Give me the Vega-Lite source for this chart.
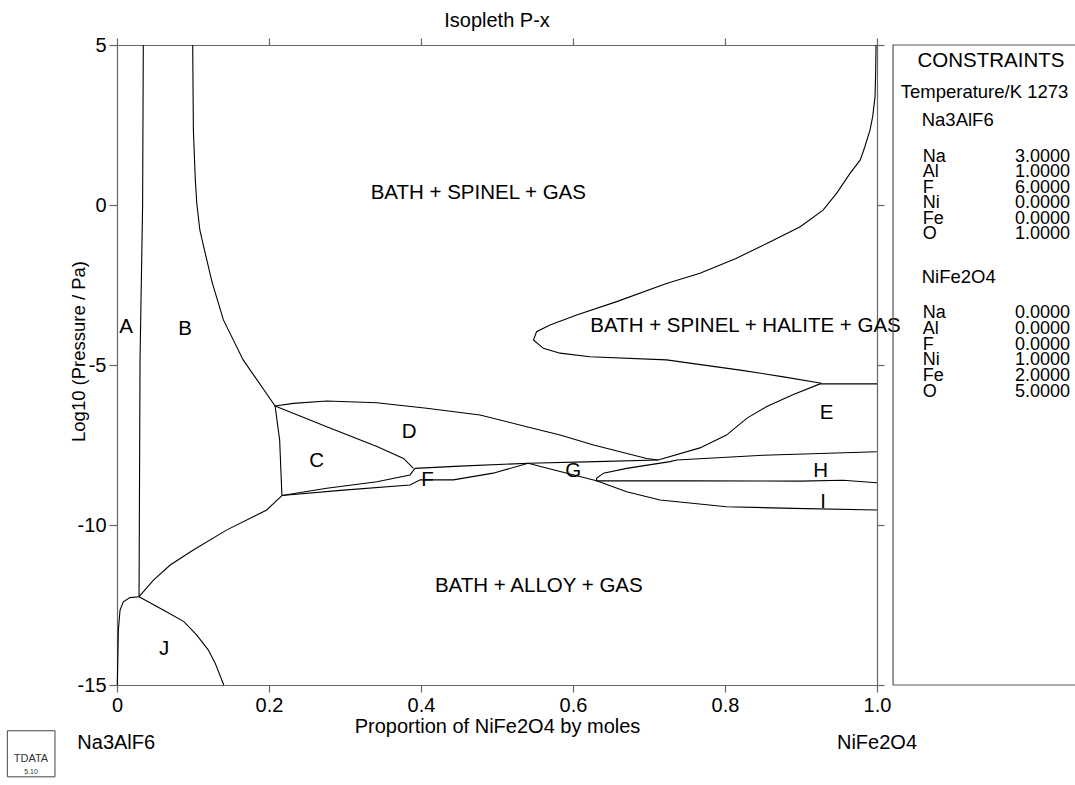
{
  "$schema": "https://vega.github.io/schema/vega-lite/v6.json",
  "width": 760,
  "height": 640,
  "autosize": {"type": "none"},
  "padding": {"left": 117, "top": 45, "right": 198, "bottom": 100},
  "background": "white",
  "title": {"text": "Isopleth P-x", "fontSize": 20, "font": "Liberation Sans", "fontWeight": "normal", "color": "black", "baseline": "bottom", "offset": 7, "dy": 23},
  "config": {
    "view": {"stroke": null},
    "font": "Liberation Sans",
    "axis": {"labelFont": "Liberation Sans", "titleFont": "Liberation Sans", "labelFontSize": 20, "titleFontSize": 20, "titleFontWeight": "normal", "labelColor": "black", "titleColor": "black", "domainColor": "#666", "tickColor": "#666", "tickSize": 7, "grid": false, "domainWidth": 1.2, "tickWidth": 1.2}
  },
  "datasets": {
    "curves": [
      {"c": "c1", "o": 1, "x": 0.0346, "y": 5}, {"c": "c1", "o": 2, "x": 0.0337, "y": 0}, {"c": "c1", "o": 3, "x": 0.0303, "y": -4.84}, {"c": "c1", "o": 4, "x": 0.029, "y": -12.24},
      {"c": "c2", "o": 1, "x": 0.0004, "y": -15}, {"c": "c2", "o": 2, "x": 0.0018, "y": -13.28}, {"c": "c2", "o": 3, "x": 0.004, "y": -12.66}, {"c": "c2", "o": 4, "x": 0.0083, "y": -12.4}, {"c": "c2", "o": 5, "x": 0.017, "y": -12.27}, {"c": "c2", "o": 6, "x": 0.029, "y": -12.24},
      {"c": "c3", "o": 1, "x": 0.029, "y": -12.24}, {"c": "c3", "o": 2, "x": 0.065, "y": -12.71}, {"c": "c3", "o": 3, "x": 0.088, "y": -13.02}, {"c": "c3", "o": 4, "x": 0.105, "y": -13.44}, {"c": "c3", "o": 5, "x": 0.12, "y": -13.9}, {"c": "c3", "o": 6, "x": 0.129, "y": -14.31}, {"c": "c3", "o": 7, "x": 0.1405, "y": -15},
      {"c": "c4", "o": 1, "x": 0.029, "y": -12.24}, {"c": "c4", "o": 2, "x": 0.048, "y": -11.72}, {"c": "c4", "o": 3, "x": 0.07, "y": -11.25}, {"c": "c4", "o": 4, "x": 0.1004, "y": -10.78}, {"c": "c4", "o": 5, "x": 0.144, "y": -10.16}, {"c": "c4", "o": 6, "x": 0.197, "y": -9.53}, {"c": "c4", "o": 7, "x": 0.217, "y": -9.08},
      {"c": "c5", "o": 1, "x": 0.0996, "y": 5}, {"c": "c5", "o": 2, "x": 0.1005, "y": 2.34}, {"c": "c5", "o": 3, "x": 0.103, "y": 0.8}, {"c": "c5", "o": 4, "x": 0.105, "y": 0.05}, {"c": "c5", "o": 5, "x": 0.109, "y": -0.78}, {"c": "c5", "o": 6, "x": 0.114, "y": -1.3}, {"c": "c5", "o": 7, "x": 0.125, "y": -2.4}, {"c": "c5", "o": 8, "x": 0.14, "y": -3.59}, {"c": "c5", "o": 9, "x": 0.166, "y": -4.84}, {"c": "c5", "o": 10, "x": 0.208, "y": -6.28},
      {"c": "c6", "o": 1, "x": 0.208, "y": -6.28}, {"c": "c6", "o": 2, "x": 0.214, "y": -7.34}, {"c": "c6", "o": 3, "x": 0.217, "y": -9.08},
      {"c": "c7", "o": 1, "x": 0.208, "y": -6.28}, {"c": "c7", "o": 2, "x": 0.232, "y": -6.2}, {"c": "c7", "o": 3, "x": 0.276, "y": -6.125}, {"c": "c7", "o": 4, "x": 0.3417, "y": -6.18}, {"c": "c7", "o": 5, "x": 0.4075, "y": -6.35}, {"c": "c7", "o": 6, "x": 0.4776, "y": -6.56}, {"c": "c7", "o": 7, "x": 0.539, "y": -6.93}, {"c": "c7", "o": 8, "x": 0.583, "y": -7.19}, {"c": "c7", "o": 9, "x": 0.627, "y": -7.5}, {"c": "c7", "o": 10, "x": 0.697, "y": -7.92}, {"c": "c7", "o": 11, "x": 0.712, "y": -7.97},
      {"c": "c8", "o": 1, "x": 0.208, "y": -6.28}, {"c": "c8", "o": 2, "x": 0.276, "y": -6.93}, {"c": "c8", "o": 3, "x": 0.342, "y": -7.55}, {"c": "c8", "o": 4, "x": 0.377, "y": -7.92}, {"c": "c8", "o": 5, "x": 0.39, "y": -8.23},
      {"c": "c9", "o": 1, "x": 0.217, "y": -9.08}, {"c": "c9", "o": 2, "x": 0.276, "y": -8.85}, {"c": "c9", "o": 3, "x": 0.342, "y": -8.65}, {"c": "c9", "o": 4, "x": 0.3855, "y": -8.44}, {"c": "c9", "o": 5, "x": 0.392, "y": -8.23},
      {"c": "c10", "o": 1, "x": 0.392, "y": -8.23}, {"c": "c10", "o": 2, "x": 0.451, "y": -8.16}, {"c": "c10", "o": 3, "x": 0.541, "y": -8.07}, {"c": "c10", "o": 4, "x": 0.63, "y": -8.02}, {"c": "c10", "o": 5, "x": 0.712, "y": -7.97},
      {"c": "c11", "o": 1, "x": 0.217, "y": -9.08}, {"c": "c11", "o": 2, "x": 0.298, "y": -8.91}, {"c": "c11", "o": 3, "x": 0.3855, "y": -8.75}, {"c": "c11", "o": 4, "x": 0.399, "y": -8.59}, {"c": "c11", "o": 5, "x": 0.4425, "y": -8.59}, {"c": "c11", "o": 6, "x": 0.495, "y": -8.38}, {"c": "c11", "o": 7, "x": 0.541, "y": -8.07},
      {"c": "c12", "o": 1, "x": 0.541, "y": -8.07}, {"c": "c12", "o": 2, "x": 0.583, "y": -8.33}, {"c": "c12", "o": 3, "x": 0.631, "y": -8.62},
      {"c": "c13", "o": 1, "x": 0.631, "y": -8.62}, {"c": "c13", "o": 2, "x": 0.631, "y": -8.54}, {"c": "c13", "o": 3, "x": 0.64, "y": -8.38}, {"c": "c13", "o": 4, "x": 0.6706, "y": -8.23}, {"c": "c13", "o": 5, "x": 0.7276, "y": -8.02}, {"c": "c13", "o": 6, "x": 0.7364, "y": -7.97}, {"c": "c13", "o": 7, "x": 0.85, "y": -7.82}, {"c": "c13", "o": 8, "x": 0.9996, "y": -7.71},
      {"c": "c14", "o": 1, "x": 0.631, "y": -8.62}, {"c": "c14", "o": 2, "x": 0.75, "y": -8.62}, {"c": "c14", "o": 3, "x": 0.9, "y": -8.63}, {"c": "c14", "o": 4, "x": 0.955, "y": -8.6}, {"c": "c14", "o": 5, "x": 1.0, "y": -8.68},
      {"c": "c15", "o": 1, "x": 0.631, "y": -8.62}, {"c": "c15", "o": 2, "x": 0.6706, "y": -8.96}, {"c": "c15", "o": 3, "x": 0.7145, "y": -9.22}, {"c": "c15", "o": 4, "x": 0.802, "y": -9.43}, {"c": "c15", "o": 5, "x": 0.89, "y": -9.48}, {"c": "c15", "o": 6, "x": 1.0, "y": -9.53},
      {"c": "c16", "o": 1, "x": 0.712, "y": -7.97}, {"c": "c16", "o": 2, "x": 0.767, "y": -7.59}, {"c": "c16", "o": 3, "x": 0.802, "y": -7.19}, {"c": "c16", "o": 4, "x": 0.829, "y": -6.66}, {"c": "c16", "o": 5, "x": 0.855, "y": -6.3}, {"c": "c16", "o": 6, "x": 0.89, "y": -5.92}, {"c": "c16", "o": 7, "x": 0.925, "y": -5.59},
      {"c": "c17", "o": 1, "x": 0.925, "y": -5.59}, {"c": "c17", "o": 2, "x": 1.0, "y": -5.59},
      {"c": "c18", "o": 1, "x": 0.9987, "y": 5}, {"c": "c18", "o": 2, "x": 0.9983, "y": 4.22}, {"c": "c18", "o": 3, "x": 0.9974, "y": 3.38}, {"c": "c18", "o": 4, "x": 0.9943, "y": 2.76}, {"c": "c18", "o": 5, "x": 0.9908, "y": 2.34}, {"c": "c18", "o": 6, "x": 0.984, "y": 1.82}, {"c": "c18", "o": 7, "x": 0.978, "y": 1.41}, {"c": "c18", "o": 8, "x": 0.9645, "y": 0.99}, {"c": "c18", "o": 9, "x": 0.947, "y": 0.37}, {"c": "c18", "o": 10, "x": 0.929, "y": -0.16}, {"c": "c18", "o": 11, "x": 0.899, "y": -0.68}, {"c": "c18", "o": 12, "x": 0.855, "y": -1.2}, {"c": "c18", "o": 13, "x": 0.8145, "y": -1.67}, {"c": "c18", "o": 14, "x": 0.767, "y": -2.13}, {"c": "c18", "o": 15, "x": 0.723, "y": -2.45}, {"c": "c18", "o": 16, "x": 0.6575, "y": -3.02}, {"c": "c18", "o": 17, "x": 0.6049, "y": -3.44}, {"c": "c18", "o": 18, "x": 0.5697, "y": -3.75}, {"c": "c18", "o": 19, "x": 0.552, "y": -3.96}, {"c": "c18", "o": 20, "x": 0.548, "y": -4.22}, {"c": "c18", "o": 21, "x": 0.561, "y": -4.48}, {"c": "c18", "o": 22, "x": 0.583, "y": -4.63}, {"c": "c18", "o": 23, "x": 0.622, "y": -4.74}, {"c": "c18", "o": 24, "x": 0.723, "y": -4.84}, {"c": "c18", "o": 25, "x": 0.82, "y": -5.16}, {"c": "c18", "o": 26, "x": 0.877, "y": -5.37}, {"c": "c18", "o": 27, "x": 0.927, "y": -5.57}
    ],
    "labels": [
      {"t": "BATH + SPINEL + GAS", "x": 0.4754, "y": 0.203},
      {"t": "BATH + SPINEL + HALITE + GAS", "x": 0.827, "y": -3.96},
      {"t": "BATH + ALLOY + GAS", "x": 0.555, "y": -12.09},
      {"t": "A", "x": 0.0121, "y": -3.99},
      {"t": "B", "x": 0.0895, "y": -4.06},
      {"t": "C", "x": 0.2627, "y": -8.18},
      {"t": "D", "x": 0.3845, "y": -7.27},
      {"t": "E", "x": 0.9338, "y": -6.7},
      {"t": "F", "x": 0.4086, "y": -8.78},
      {"t": "G", "x": 0.6004, "y": -8.51},
      {"t": "H", "x": 0.926, "y": -8.51},
      {"t": "I", "x": 0.929, "y": -9.48},
      {"t": "J", "x": 0.0621, "y": -14.06}
    ],
    "box": [{"x1": 1.0211, "x2": 1.28, "y1": 5, "y2": -15}],
    "heads": [
      {"t": "Temperature/K 1273", "x": 1.0312, "y": 3.54},
      {"t": "Na3AlF6", "x": 1.0588, "y": 2.656},
      {"t": "NiFe2O4", "x": 1.0588, "y": -2.241}
    ],
    "rows": [
      {"el": "Na", "v": "3.0000", "y": 1.509},
      {"el": "Al", "v": "1.0000", "y": 1.022},
      {"el": "F", "v": "6.0000", "y": 0.541},
      {"el": "Ni", "v": "0.0000", "y": 0.053},
      {"el": "Fe", "v": "0.0000", "y": -0.4375},
      {"el": "O", "v": "1.0000", "y": -0.916},
      {"el": "Na", "v": "0.0000", "y": -3.384},
      {"el": "Al", "v": "0.0000", "y": -3.875},
      {"el": "F", "v": "0.0000", "y": -4.366},
      {"el": "Ni", "v": "1.0000", "y": -4.853},
      {"el": "Fe", "v": "2.0000", "y": -5.344},
      {"el": "O", "v": "5.0000", "y": -5.834}
    ],
    "logo": [{"x1": -0.1443, "x2": -0.0816, "y1": -16.43, "y2": -17.87}]
  },
  "layer": [
    {
      "data": {"name": "curves"},
      "mark": {"type": "line", "color": "black", "strokeWidth": 1.1, "interpolate": "linear"},
      "encoding": {
        "x": {"field": "x", "type": "quantitative", "scale": {"domain": [0, 1], "nice": false, "zero": false},
          "axis": {"orient": "bottom", "values": [0, 0.2, 0.4, 0.6, 0.8, 1], "labelExpr": "datum.value == 0 ? '0' : format(datum.value, '.1f')", "title": "Proportion of NiFe2O4 by moles", "labelPadding": 3, "titlePadding": 1, "labelFlush": false, "labelOverlap": false}},
        "y": {"field": "y", "type": "quantitative", "scale": {"domain": [-15, 5], "nice": false, "zero": false},
          "axis": {"orient": "left", "values": [5, 0, -5, -10, -15], "labelExpr": "toString(datum.value)", "title": "Log10 (Pressure / Pa)", "tickSize": 8, "labelPadding": 3, "titleFontSize": 18.5, "titleAngle": 270, "titleX": -33, "titleY": 306, "titleAlign": "center", "titleBaseline": "alphabetic", "labelFlush": false, "labelOverlap": false}},
        "detail": {"field": "c", "type": "nominal"},
        "order": {"field": "o", "type": "quantitative"}
      }
    },
    {
      "data": {"name": "curves"},
      "mark": {"type": "point", "opacity": 0, "size": 1},
      "encoding": {
        "x": {"field": "x", "type": "quantitative", "axis": {"orient": "top", "values": [0, 0.2, 0.4, 0.6, 0.8, 1], "labels": false, "title": null}},
        "y": {"field": "y", "type": "quantitative", "axis": {"orient": "right", "values": [5, 0, -5, -10, -15], "labels": false, "title": null}}
      }
    },
    {
      "data": {"name": "labels"},
      "mark": {"type": "text", "fontSize": 20.5, "font": "Liberation Sans", "color": "black", "align": "center", "baseline": "alphabetic"},
      "encoding": {
        "x": {"field": "x", "type": "quantitative", "axis": null},
        "y": {"field": "y", "type": "quantitative", "axis": null},
        "text": {"field": "t"}
      }
    },
    {
      "data": {"name": "box"},
      "mark": {"type": "rect", "fill": "white", "fillOpacity": 0, "stroke": "#555", "strokeWidth": 1.2},
      "encoding": {
        "x": {"field": "x1", "type": "quantitative", "axis": null},
        "x2": {"field": "x2"},
        "y": {"field": "y1", "type": "quantitative", "axis": null},
        "y2": {"field": "y2"}
      }
    },
    {
      "data": {"values": [{"t": "CONSTRAINTS", "x": 1.15, "y": 4.51}]},
      "mark": {"type": "text", "fontSize": 20.5, "font": "Liberation Sans", "color": "black", "align": "center", "baseline": "middle"},
      "encoding": {
        "x": {"field": "x", "type": "quantitative", "axis": null},
        "y": {"field": "y", "type": "quantitative", "axis": null},
        "text": {"field": "t"}
      }
    },
    {
      "data": {"name": "heads"},
      "mark": {"type": "text", "fontSize": 18.5, "font": "Liberation Sans", "color": "black", "align": "left", "baseline": "middle"},
      "encoding": {
        "x": {"field": "x", "type": "quantitative", "axis": null},
        "y": {"field": "y", "type": "quantitative", "axis": null},
        "text": {"field": "t"}
      }
    },
    {
      "data": {"name": "rows"},
      "mark": {"type": "text", "fontSize": 18, "font": "Liberation Sans", "color": "black", "align": "left", "baseline": "middle"},
      "encoding": {
        "x": {"datum": 1.0601, "type": "quantitative", "axis": null},
        "y": {"field": "y", "type": "quantitative", "axis": null},
        "text": {"field": "el"}
      }
    },
    {
      "data": {"name": "rows"},
      "mark": {"type": "text", "fontSize": 18, "font": "Liberation Sans", "color": "black", "align": "right", "baseline": "middle"},
      "encoding": {
        "x": {"datum": 1.2539, "type": "quantitative", "axis": null},
        "y": {"field": "y", "type": "quantitative", "axis": null},
        "text": {"field": "v"}
      }
    },
    {
      "data": {"values": [{"t": "Na3AlF6", "x": -0.0522, "y": -16.82}]},
      "mark": {"type": "text", "fontSize": 20, "font": "Liberation Sans", "color": "black", "baseline": "middle", "align": "left"},
      "encoding": {
        "x": {"field": "x", "type": "quantitative", "axis": null},
        "y": {"field": "y", "type": "quantitative", "axis": null},
        "text": {"field": "t"}
      }
    },
    {
      "data": {"values": [{"t": "NiFe2O4", "x": 1.0, "y": -16.82}]},
      "mark": {"type": "text", "fontSize": 20, "font": "Liberation Sans", "color": "black", "baseline": "middle", "align": "center"},
      "encoding": {
        "x": {"field": "x", "type": "quantitative", "axis": null},
        "y": {"field": "y", "type": "quantitative", "axis": null},
        "text": {"field": "t"}
      }
    },
    {
      "data": {"name": "logo"},
      "mark": {"type": "rect", "fill": "white", "fillOpacity": 0, "stroke": "#444", "strokeWidth": 1},
      "encoding": {
        "x": {"field": "x1", "type": "quantitative", "axis": null},
        "x2": {"field": "x2"},
        "y": {"field": "y1", "type": "quantitative", "axis": null},
        "y2": {"field": "y2"}
      }
    },
    {
      "data": {"values": [{"t": "TDATA", "x": -0.1132, "y": -17.31}]},
      "mark": {"type": "text", "fontSize": 11, "font": "Liberation Sans", "color": "#333", "baseline": "middle", "align": "center"},
      "encoding": {
        "x": {"field": "x", "type": "quantitative", "axis": null},
        "y": {"field": "y", "type": "quantitative", "axis": null},
        "text": {"field": "t"}
      }
    },
    {
      "data": {"values": [{"t": "5.10", "x": -0.1132, "y": -17.73}]},
      "mark": {"type": "text", "fontSize": 7, "font": "Liberation Sans", "color": "#333", "baseline": "middle", "align": "center"},
      "encoding": {
        "x": {"field": "x", "type": "quantitative", "axis": null},
        "y": {"field": "y", "type": "quantitative", "axis": null},
        "text": {"field": "t"}
      }
    }
  ],
  "resolve": {"axis": {"x": "independent", "y": "independent"}}
}
